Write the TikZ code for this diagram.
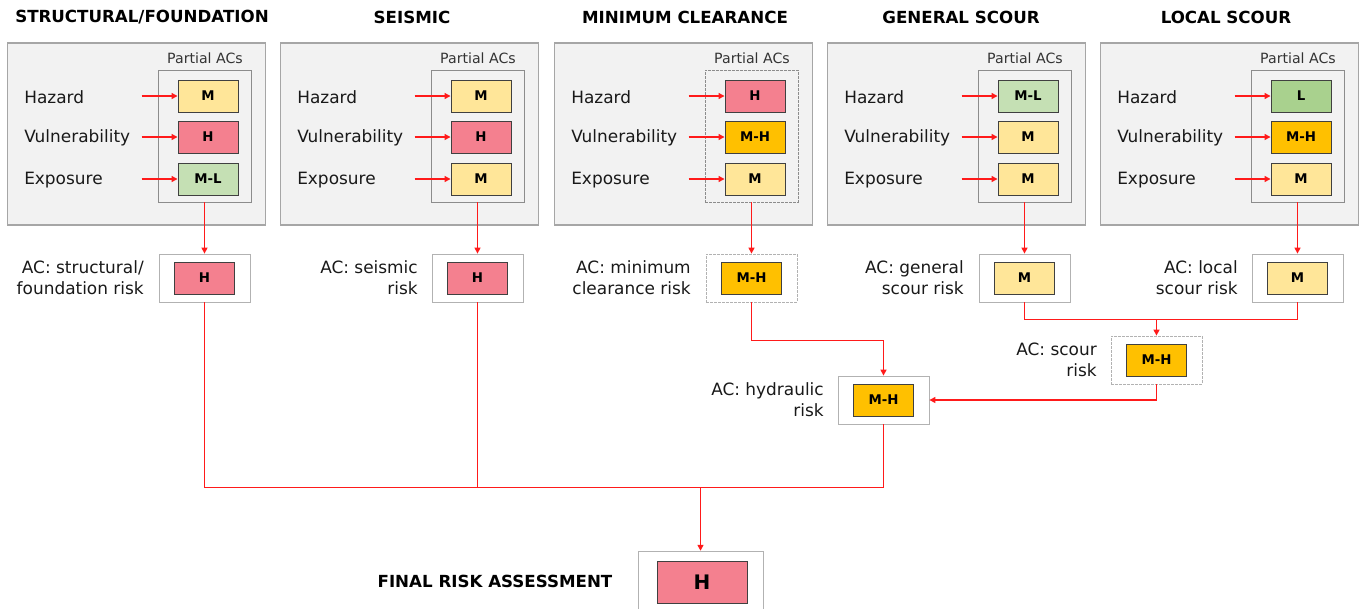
\documentclass[tikz,border=0pt]{standalone}
\usepackage{fontspec}
\setmainfont{DejaVu Sans}
\usepackage{xcolor}
\usetikzlibrary{arrows.meta}
\definecolor{lvM}{HTML}{FFE699}
\definecolor{lvH}{HTML}{F4808F}
\definecolor{lvMH}{HTML}{FFC000}
\definecolor{lvML}{HTML}{C5E0B4}
\definecolor{lvL}{HTML}{A9D18E}
\definecolor{flowred}{HTML}{FF1A1A}

\begin{document}
\begin{tikzpicture}[
			     x=0.75pt, y=-0.75pt,
			     >={Triangle[length=4.5pt,width=4.5pt]},
			     title/.style={font=\bfseries\fontsize{12.5}{15}\selectfont},
			     panel/.style={draw=black!35, line width=0.9pt, fill=black!5, minimum width=194pt, minimum height=136.5pt},
			     partial/.style={draw=black!45, line width=0.7pt, minimum width=69.75pt, minimum height=99pt},
			     partial text/.style={font=\fontsize{10.6}{13}\selectfont, text=black!80},
			     factor/.style={anchor=west, inner xsep=0pt, font=\fontsize{12.7}{15.75}\selectfont, text=black!90},
			     aclabel/.style={anchor=east, align=right, inner xsep=0pt, font=\fontsize{12.7}{15.75}\selectfont, text=black!90},
			     level/.style={draw=black!75, line width=0.7pt, minimum width=45pt, minimum height=24pt, inner sep=0pt, font=\bfseries\fontsize{10}{12}\selectfont},
			     acbox/.style={draw=black!30, line width=0.6pt, minimum width=68.25pt, minimum height=36pt},
			     dotted box/.style={dash pattern=on 2pt off 1pt},
			     wire/.style={draw=flowred, line width=1pt},
			     flow/.style={wire, ->}
			     ]
\useasboundingbox (0,0) rectangle (1366,608);
% headings
\node[title] (t1) at (142,17) {STRUCTURAL/FOUNDATION};
\node[title] (t2) at (412,17) {SEISMIC};
\node[title] (t3) at (685,17) {MINIMUM CLEARANCE};
\node[title] (t4) at (961,17) {GENERAL SCOUR};
\node[title] (t5) at (1226,17) {LOCAL SCOUR};
% structural / foundation
\node[panel] (p1) at (136.5,134) {};
\node[partial text] at (205,58) {Partial ACs};
\node[partial] (in1) at (204.5,136) {};
\node[factor] (f1h) at (24,97) {Hazard};
\node[factor] (f1v) at (24,138) {Vulnerability};
\node[factor] (f1e) at (24,180) {Exposure};
\node[level, fill=lvM] (b1h) at (208,96) {M};
\node[level, fill=lvH] (b1v) at (208,137) {H};
\node[level, fill=lvML] (b1e) at (208,179) {M-L};
\draw[flow] (b1h.west) ++(-36,0) -- (b1h.west);
\draw[flow] (b1v.west) ++(-36,0) -- (b1v.west);
\draw[flow] (b1e.west) ++(-36,0) -- (b1e.west);
\node[acbox] (ac1) at (204.5,278) {};
\node[level, fill=lvH] (r1) at (ac1) {H};
\node[aclabel] (l1) at (144,278) {AC: structural/\\foundation risk};
\draw[flow] (in1.south) -- (ac1.north);
% seismic
\node[panel] (p2) at (409.5,134) {};
\node[partial text] at (478,58) {Partial ACs};
\node[partial] (in2) at (477.5,136) {};
\node[factor] (f2h) at (297,97) {Hazard};
\node[factor] (f2v) at (297,138) {Vulnerability};
\node[factor] (f2e) at (297,180) {Exposure};
\node[level, fill=lvM] (b2h) at (481,96) {M};
\node[level, fill=lvH] (b2v) at (481,137) {H};
\node[level, fill=lvM] (b2e) at (481,179) {M};
\draw[flow] (b2h.west) ++(-36,0) -- (b2h.west);
\draw[flow] (b2v.west) ++(-36,0) -- (b2v.west);
\draw[flow] (b2e.west) ++(-36,0) -- (b2e.west);
\node[acbox] (ac2) at (477.5,278) {};
\node[level, fill=lvH] (r2) at (ac2) {H};
\node[aclabel] (l2) at (418,278) {AC: seismic\\risk};
\draw[flow] (in2.south) -- (ac2.north);
% minimum clearance
\node[panel] (p3) at (683.5,134) {};
\node[partial text] at (752,58) {Partial ACs};
\node[partial, dotted box] (in3) at (751.5,136) {};
\node[factor] (f3h) at (571,97) {Hazard};
\node[factor] (f3v) at (571,138) {Vulnerability};
\node[factor] (f3e) at (571,180) {Exposure};
\node[level, fill=lvH] (b3h) at (755,96) {H};
\node[level, fill=lvMH] (b3v) at (755,137) {M-H};
\node[level, fill=lvM] (b3e) at (755,179) {M};
\draw[flow] (b3h.west) ++(-36,0) -- (b3h.west);
\draw[flow] (b3v.west) ++(-36,0) -- (b3v.west);
\draw[flow] (b3e.west) ++(-36,0) -- (b3e.west);
\node[acbox, dotted box] (ac3) at (751.5,278) {};
\node[level, fill=lvMH] (r3) at (ac3) {M-H};
\node[aclabel] (l3) at (691,278) {AC: minimum\\clearance risk};
\draw[flow] (in3.south) -- (ac3.north);
% general scour
\node[panel] (p4) at (956.5,134) {};
\node[partial text] at (1025,58) {Partial ACs};
\node[partial] (in4) at (1024.5,136) {};
\node[factor] (f4h) at (844,97) {Hazard};
\node[factor] (f4v) at (844,138) {Vulnerability};
\node[factor] (f4e) at (844,180) {Exposure};
\node[level, fill=lvML] (b4h) at (1028,96) {M-L};
\node[level, fill=lvM] (b4v) at (1028,137) {M};
\node[level, fill=lvM] (b4e) at (1028,179) {M};
\draw[flow] (b4h.west) ++(-36,0) -- (b4h.west);
\draw[flow] (b4v.west) ++(-36,0) -- (b4v.west);
\draw[flow] (b4e.west) ++(-36,0) -- (b4e.west);
\node[acbox] (ac4) at (1024.5,278) {};
\node[level, fill=lvM] (r4) at (ac4) {M};
\node[aclabel] (l4) at (964,278) {AC: general\\scour risk};
\draw[flow] (in4.south) -- (ac4.north);
% local scour
\node[panel] (p5) at (1229.5,134) {};
\node[partial text] at (1298,58) {Partial ACs};
\node[partial] (in5) at (1297.5,136) {};
\node[factor] (f5h) at (1117,97) {Hazard};
\node[factor] (f5v) at (1117,138) {Vulnerability};
\node[factor] (f5e) at (1117,180) {Exposure};
\node[level, fill=lvL] (b5h) at (1301,96) {L};
\node[level, fill=lvMH] (b5v) at (1301,137) {M-H};
\node[level, fill=lvM] (b5e) at (1301,179) {M};
\draw[flow] (b5h.west) ++(-36,0) -- (b5h.west);
\draw[flow] (b5v.west) ++(-36,0) -- (b5v.west);
\draw[flow] (b5e.west) ++(-36,0) -- (b5e.west);
\node[acbox] (ac5) at (1297.5,278) {};
\node[level, fill=lvM] (r5) at (ac5) {M};
\node[aclabel] (l5) at (1238,278) {AC: local\\scour risk};
\draw[flow] (in5.south) -- (ac5.north);
% scour and hydraulic
\node[acbox, dotted box] (scour) at (1156.5,360) {};
\node[level, fill=lvMH] (rs) at (scour) {M-H};
\node[aclabel] (ls) at (1097,360) {AC: scour\\risk};
\node[acbox] (hyd) at (883.5,400) {};
\node[level, fill=lvMH] (rh) at (hyd) {M-H};
\node[aclabel] (lh) at (824,400) {AC: hydraulic\\risk};
\coordinate (sjoin) at (1156.5,319.5);
\coordinate (hbend) at (883.5,340.5);
\draw[wire] (ac4.south) |- (sjoin);
\draw[wire] (ac5.south) |- (sjoin);
\draw[flow] (sjoin) -- (scour.north);
\draw[flow] (ac3.south) |- (hbend) -- (hyd.north);
\draw[flow] (scour.south) |- (hyd.east);
% final
\node[acbox, minimum width=93.75pt, minimum height=44pt] (final) at (700.5,580.5) {};
\node[level, fill=lvH, minimum width=67.5pt, minimum height=31.5pt, font=\bfseries\fontsize{15}{18}\selectfont] (rf) at (702,582) {H};
\node[title] (lf) at (495,581) {FINAL RISK ASSESSMENT};
\coordinate (fjoin) at (700.5,487.5);
\draw[wire] (ac1.south) |- (fjoin);
\draw[wire] (ac2.south) -- (ac2.south |- fjoin);
\draw[wire] (hyd.south) |- (fjoin);
\draw[flow, line width=1.3pt] (fjoin) -- (final.north);
\end{tikzpicture}
\end{document}
